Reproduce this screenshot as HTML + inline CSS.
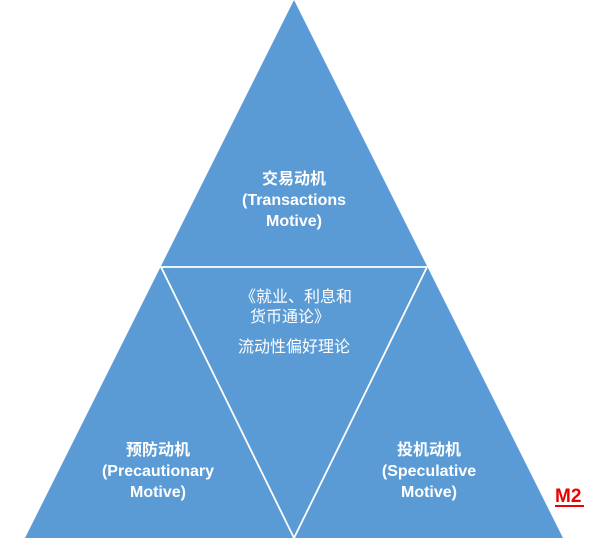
<!DOCTYPE html>
<html><head><meta charset="utf-8"><style>
body{margin:0;background:#fff;width:600px;height:547px;overflow:hidden}
text{font-family:"Liberation Sans","Noto Sans CJK SC",sans-serif;fill:#fff;font-size:16px}
.b{font-weight:bold}
</style></head><body>
<svg width="600" height="547" xmlns="http://www.w3.org/2000/svg">
<polygon points="294,0 25,538 563,538" fill="#5b9bd5"/>
<polygon points="161,267 427,267 294,538" fill="none" stroke="#fff" stroke-width="1.8" stroke-linejoin="miter"/>
<g text-anchor="middle">
<text x="294" y="184" class="b">交易动机</text>
<text x="294" y="205" class="b">(Transactions</text>
<text x="294" y="226" class="b">Motive)</text>
<text x="158" y="455" class="b">预防动机</text>
<text x="158" y="476" class="b">(Precautionary</text>
<text x="158" y="497" class="b">Motive)</text>
<text x="429" y="455" class="b">投机动机</text>
<text x="429" y="476" class="b">(Speculative</text>
<text x="429" y="497" class="b">Motive)</text>
<text x="296" y="302">《就业、利息和</text>
<text x="290" y="322">货币通论》</text>
<text x="294" y="352">流动性偏好理论</text>
</g>
<text x="555" y="502" style="fill:#e00;font-weight:bold;font-size:19px">M2</text>
<line x1="555" y1="506" x2="584" y2="506" stroke="#e00" stroke-width="2"/>
</svg>
</body></html>
